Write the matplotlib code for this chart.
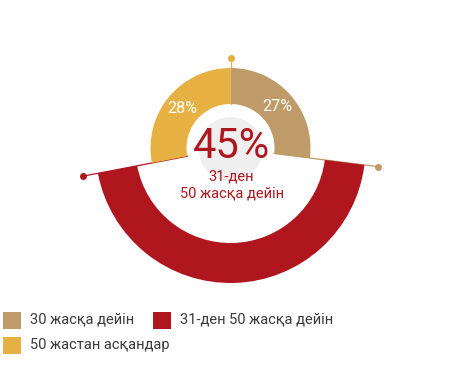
import numpy as np
import matplotlib
matplotlib.use('Agg')
import matplotlib.pyplot as plt
from matplotlib.patches import Circle

plt.rcParams['font.family'] = ['Roboto', 'DejaVu Sans']

# data
labels = ['30 жасқа дейін', '31-ден 50 жасқа дейін', '50 жастан асқандар']
values = [27, 45, 28]
colors = ['#BE9B68', '#B0161E', '#E7B043']
center_label = '31-ден\n50 жасқа дейін'

W, H = 461, 369
fig = plt.figure(figsize=(W / 100, H / 100), dpi=100)
ax = fig.add_axes([0, 0, 1, 1])

cx, cy = 230.5, H - 148

# boundary lines with dots
bounds = np.cumsum([0] + values[:-1])  # start of each slice
line_cols = [colors[2], colors[0], colors[1]]
dot_r = [90, 149, 150]
for i, b in enumerate(bounds):
    ang = np.deg2rad(90 - b / sum(values) * 360)
    r0, r1 = 44, dot_r[i]
    ax.plot([cx + r0 * np.cos(ang), cx + r1 * np.cos(ang)],
            [cy + r0 * np.sin(ang), cy + r1 * np.sin(ang)],
            color=line_cols[i], lw=0.9, zorder=1)
    ax.plot(cx + r1 * np.cos(ang), cy + r1 * np.sin(ang), 'o',
            color=line_cols[i], ms=4, zorder=1)

# inner ring: the 30 and 50+ slices
inner_cols = [colors[0], 'none', colors[2]]
wedges, texts, autotexts = ax.pie(values, colors=inner_cols, radius=80,
                                  center=(cx, cy), startangle=90,
                                  counterclock=False,
                                  wedgeprops=dict(width=36, linewidth=0),
                                  autopct=lambda p: '%d%%' % round(p),
                                  pctdistance=0.775,
                                  textprops=dict(color='white', fontsize=11.5))
for w in wedges:
    w.set_zorder(2)
for t in autotexts:
    t.set_zorder(3)
autotexts[1].set_visible(False)

# outer ring: the 31-50 slice
outer_cols = ['none', colors[1], 'none']
wedges2, _ = ax.pie(values, colors=outer_cols, radius=135,
                    center=(cx, cy), startangle=90, counterclock=False,
                    wedgeprops=dict(width=40, linewidth=0))
for w in wedges2:
    w.set_zorder(2)

# center circle and labels
ax.add_patch(Circle((cx, cy - 1), 32, color='#EFEFEF', zorder=2.5, lw=0))
ax.text(cx + 1, cy + 2, '%d%%' % values[1], color=colors[1], fontsize=30,
        ha='center', va='center', zorder=3)
ax.text(cx + 1, cy - 37, center_label, color=colors[1], fontsize=10.5,
        ha='center', va='center', linespacing=1.3, zorder=3)

# legend
leg_pos = [(3, H - 320), (153, H - 320), (3, H - 345)]
for (lx, ly), lab, col in zip(leg_pos, labels, colors):
    ax.add_patch(plt.Rectangle((lx, ly - 8.5), 18, 17, color=col, lw=0))
    ax.text(lx + 27, ly, lab, color='#3A3A3A', fontsize=10.5,
            ha='left', va='center')

ax.set_xlim(0, W)
ax.set_ylim(0, H)
ax.set_aspect('equal')
ax.axis('off')

fig.savefig('out.png', dpi=100)
